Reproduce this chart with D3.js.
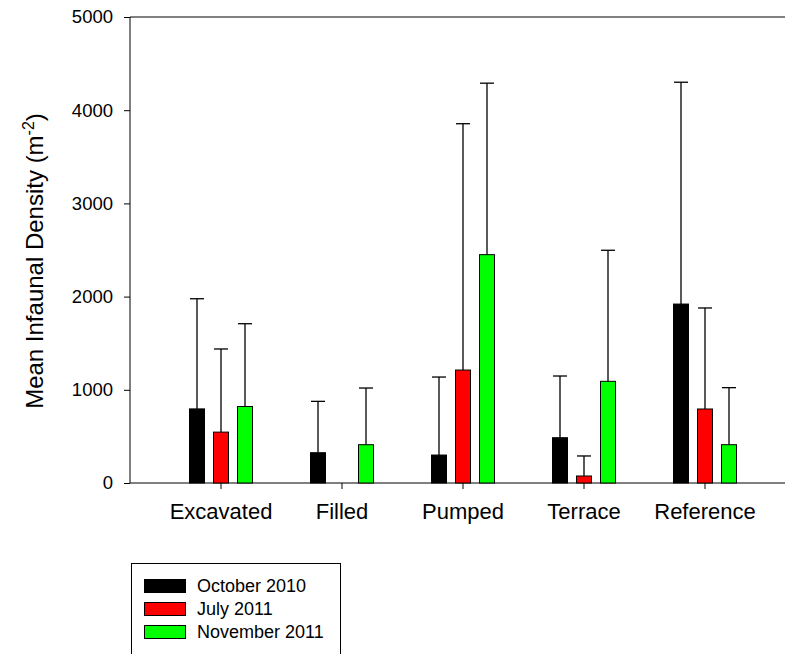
<!DOCTYPE html>
<html><head><meta charset="utf-8">
<script src="https://cdn.jsdelivr.net/npm/d3@7"></script>
<style>body{margin:0;background:#fff}text{font-family:"Liberation Sans",Arial,sans-serif}</style>
</head><body>
<script>
const categories = ["Excavated","Filled","Pumped","Terrace","Reference"];
const seriesNames = ["October 2010","July 2011","November 2011"];
const seriesColors = ["#000000","#ff0000","#00ff00"];
const oct2010 = [795, 325, 300, 486, 1920];
const jul2011 = [546, 0, 1212, 75, 794];
const nov2011 = [821, 411, 2450, 1091, 411];
const oct2010Err = [1977, 876, 1137, 1148, 4300];
const jul2011Err = [1438, null, 3855, 290, 1878];
const nov2011Err = [1709, 1019, 4290, 2497, 1023];
const yTicks = [0,1000,2000,3000,4000,5000];

const values = [oct2010, jul2011, nov2011];
const errs = [oct2010Err, jul2011Err, nov2011Err];

const W = 785, H = 654;
const svg = d3.select("body").append("svg").attr("width",W).attr("height",H);
const pLeft = 130, pRight = 785, pTop = 17, pBottom = 483;

const y = d3.scaleLinear().domain([0,5000]).range([pBottom, pTop]);
const x = d3.scaleBand().domain(categories).range([160.5, 765.5]).paddingInner(0).paddingOuter(0);
const xs = d3.scaleBand().domain(d3.range(3)).range([-36, 36]).padding(0);
const barW = 15;

// frame top line
svg.append("line").attr("x1",pLeft).attr("x2",pRight).attr("y1",pTop).attr("y2",pTop).attr("stroke","#000").attr("stroke-width",1);

// y axis
const yAxis = svg.append("g").attr("transform",`translate(${pLeft},0)`)
  .call(d3.axisLeft(y).tickValues(yTicks).tickSize(6).tickPadding(11).tickFormat(d3.format("d")));
yAxis.select(".domain").attr("stroke","#000").attr("d",`M0,${pBottom}V${pTop}`);
yAxis.selectAll("text").attr("font-size","18.5px").attr("fill","#000");

// x axis
const xAxis = svg.append("g").attr("transform",`translate(0,${pBottom})`)
  .call(d3.axisBottom(x).tickSize(6).tickPadding(14));
xAxis.select(".domain").attr("d",`M${pLeft},0H${pRight}`).attr("stroke","#000");
xAxis.selectAll("text").attr("font-size","22px").attr("fill","#000");

// bars & errors
const g = svg.append("g");
values.forEach((vals, s) => {
  categories.forEach((c, i) => {
    const cx = x(c) + x.bandwidth()/2 + xs(s) + xs.bandwidth()/2;
    const v = vals[i];
    const e = errs[s][i];
    if (e != null) {
      g.append("line").attr("x1",cx).attr("x2",cx).attr("y1",y(v)).attr("y2",y(e)).attr("stroke","#000").attr("stroke-width",1.3);
      g.append("line").attr("x1",cx-7).attr("x2",cx+7).attr("y1",y(e)).attr("y2",y(e)).attr("stroke","#000").attr("stroke-width",1.3);
    }
    if (v > 0) {
      g.append("rect").attr("x",cx-barW/2).attr("y",y(v)).attr("width",barW).attr("height",y(0)-y(v))
        .attr("fill",seriesColors[s]).attr("stroke","#000").attr("stroke-width",1);
    }
  });
});

// y title
const t = svg.append("text").attr("transform","translate(43,261) rotate(-90)").attr("text-anchor","middle")
  .attr("font-size","24px").attr("fill","#000");
t.append("tspan").text("Mean Infaunal Density (m");
t.append("tspan").text("-2").attr("font-size","16px").attr("dy","-9");
t.append("tspan").text(")").attr("dy","9");

// legend
const lg = svg.append("g");
lg.append("rect").attr("x",131.5).attr("y",563.5).attr("width",209).attr("height",110).attr("fill","none").attr("stroke","#000").attr("stroke-width",1);
seriesNames.forEach((n, i) => {
  const yy = 579 + i*23;
  lg.append("rect").attr("x",144.5).attr("y",yy+0.5).attr("width",41).attr("height",13).attr("fill",seriesColors[i]).attr("stroke","#000").attr("stroke-width",1);
  lg.append("text").attr("x",197).attr("y",yy+7).attr("dy","0.35em").attr("font-size","18px").text(n);
});
</script>
</body></html>
